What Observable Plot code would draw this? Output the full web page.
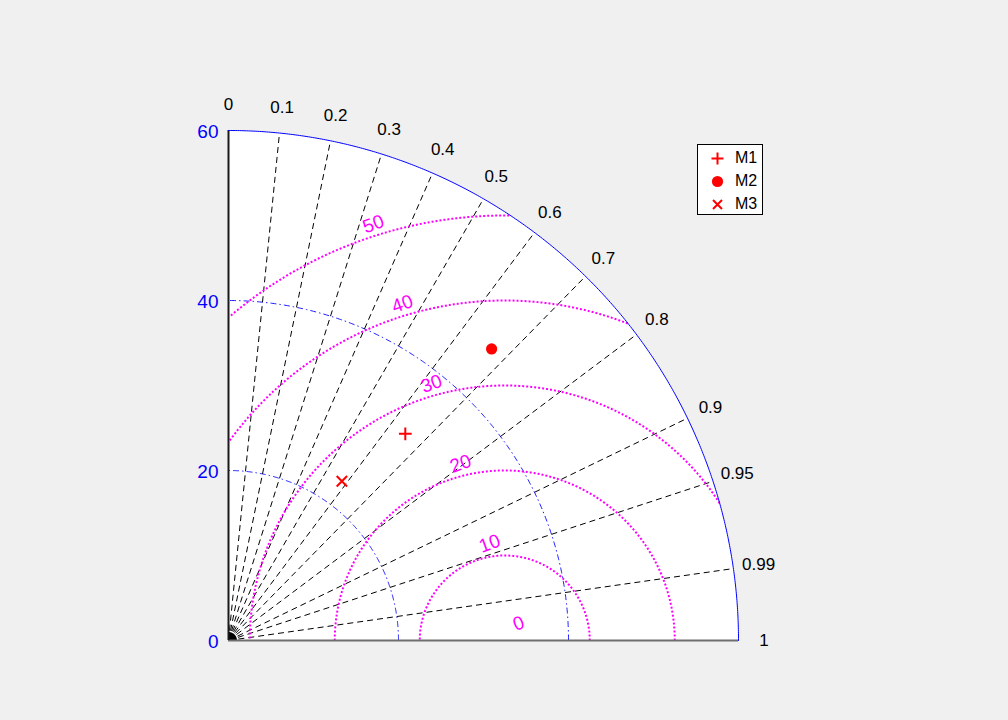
<!DOCTYPE html>
<html><head><meta charset="utf-8">
<script src="https://cdn.jsdelivr.net/npm/d3@7"></script>
<script src="https://cdn.jsdelivr.net/npm/@observablehq/plot@0.6"></script>
<style>
html,body{margin:0;padding:0;background:#f0f0f0;overflow:hidden}
#wrap{position:relative;width:1008px;height:720px}
#legend{position:absolute;left:697px;top:144px;width:66px;height:71px;background:#fff;border:1px solid #000;box-sizing:border-box;font:16px "Liberation Sans",Arial,sans-serif;color:#000}
.item{position:absolute;left:0;height:22px;line-height:22px}
.item svg{position:absolute;left:13px;top:5px}
.item span{position:absolute;left:37px;top:0;white-space:nowrap}
</style></head><body><div id="wrap"></div>
<script>
// ---- data ----
const models = ["M1", "M2", "M3"];
const stdDev = [32.0, 46.2, 23.0];
const corrCoef = [0.65, 0.67, 0.58];
const refStd = 32.5;
const corrTicks = [0, 0.1, 0.2, 0.3, 0.4, 0.5, 0.6, 0.7, 0.8, 0.9, 0.95, 0.99, 1];
const corrTickLabels = ["0", "0.1", "0.2", "0.3", "0.4", "0.5", "0.6", "0.7", "0.8", "0.9", "0.95", "0.99", "1"];
const stdTicks = [0, 20, 40, 60];
const stdGrid = [20, 40];
const stdMax = 60;
const rmsTicks = [0, 10, 20, 30, 40, 50];

// ---- geometry helpers ----
const deg = Math.PI / 180;
const arc = (cx, r, a0, a1, n = 360) =>
  d3.range(n + 1).map(i => {
    const a = (a0 + (a1 - a0) * i / n) * deg;
    return {x: cx + r * Math.cos(a), y: r * Math.sin(a)};
  });

const disc = [{x: 0, y: 0}, ...arc(0, stdMax, 0, 90), {x: 0, y: 0}];
const blob = [{x: 0, y: 0}, ...arc(0, 1, 0, 90, 30), {x: 0, y: 0}];
const stdCircles = stdGrid.flatMap(s => arc(0, s, 0, 90).map(p => ({...p, s})));
const outer = arc(0, stdMax, 0, 90);
const rmsCircles = rmsTicks.filter(r => r > 0).flatMap(r =>
  arc(refStd, r, 0, 180, 900)
    .filter(p => p.x >= 0 && Math.hypot(p.x, p.y) <= stdMax)
    .map(p => ({...p, r})));
const corrLines = corrTicks.filter(c => c > 0 && c < 1).map(c => {
  const t = Math.acos(c);
  return {x1: 0, y1: 0, x2: stdMax * Math.cos(t), y2: stdMax * Math.sin(t)};
});
const corrLabels = corrTicks.map((c, i) => {
  const t = Math.acos(c), R = stdMax * 1.05;
  return {x: R * Math.cos(t), y: R * Math.sin(t), label: corrTickLabels[i]};
});
const rmsLabelAngle = 110 * deg;
const rmsLabels = rmsTicks.map(r => ({
  x: refStd + r * Math.cos(rmsLabelAngle), y: r * Math.sin(rmsLabelAngle), label: String(r)
}));
const pts = models.map((m, i) => {
  const t = Math.acos(corrCoef[i]);
  return {model: m, x: stdDev[i] * Math.cos(t), y: stdDev[i] * Math.sin(t)};
});

const font = '"Liberation Sans", Arial, sans-serif';
const chart = Plot.plot({
  width: 1008, height: 720,
  marginLeft: 228, marginRight: 270, marginTop: 130, marginBottom: 80,
  style: {background: "#f0f0f0", fontFamily: font, overflow: "visible"},
  x: {domain: [0, stdMax], axis: null},
  y: {domain: [0, stdMax], axis: null},
  marks: [
    Plot.line(disc, {x: "x", y: "y", fill: "white", stroke: "none"}),
    Plot.line(stdCircles, {x: "x", y: "y", z: "s", stroke: "#0000ff", strokeWidth: 0.9, strokeDasharray: "6,3,1.5,3", strokeLinecap: "butt"}),
    Plot.link(corrLines, {x1: "x1", y1: "y1", x2: "x2", y2: "y2", stroke: "black", strokeWidth: 1, strokeDasharray: "6,4", strokeLinecap: "butt"}),
    Plot.line(rmsCircles, {x: "x", y: "y", z: "r", stroke: "#ff00ff", strokeWidth: 2, strokeDasharray: "2,2", strokeLinecap: "butt"}),
    Plot.line(blob, {x: "x", y: "y", fill: "black", stroke: "none"}),
    Plot.ruleY([0], {x1: 0, x2: stdMax, stroke: "#6e6e6e", strokeWidth: 2}),
    Plot.ruleX([0], {y1: 0, y2: stdMax, stroke: "#1a1a1a", strokeWidth: 2}),
    Plot.line(outer, {x: "x", y: "y", stroke: "#0000ff", strokeWidth: 1}),
    Plot.text(corrLabels, {x: "x", y: "y", text: "label", fontSize: 17, fill: "black", textAnchor: "middle", lineAnchor: "middle"}),
    Plot.text(stdTicks, {x: 0, y: d => d, text: d => String(d), fontSize: 19, fill: "#0000ff", textAnchor: "end", lineAnchor: "middle", dx: -10, dy: 1}),
    Plot.text(rmsLabels, {x: "x", y: "y", text: "label", fontSize: 19, fill: "#ff00ff", rotate: -20, textAnchor: "middle", lineAnchor: "middle", dx: 14, dy: -17}),
    Plot.dot(pts.filter(d => d.model === "M1"), {x: "x", y: "y", symbol: "plus", r: 4.2, stroke: "red", strokeWidth: 2, strokeLinecap: "butt"}),
    Plot.dot(pts.filter(d => d.model === "M2"), {x: "x", y: "y", symbol: "circle", r: 5.6, fill: "red", stroke: "none"}),
    Plot.dot(pts.filter(d => d.model === "M3"), {x: "x", y: "y", symbol: "times", r: 4.8, stroke: "red", strokeWidth: 2, strokeLinecap: "butt"})
  ]
});
const wrap = document.getElementById("wrap");
wrap.appendChild(chart);

// legend
const icons = {
  M1: '<path d="M0.5,6.5H12.5M6.5,0.5V12.5" stroke="red" stroke-width="2" fill="none"/>',
  M2: '<circle cx="6.5" cy="6.5" r="5.6" fill="red"/>',
  M3: '<path d="M2,2L11,11M11,2L2,11" stroke="red" stroke-width="2" fill="none"/>'
};
const lg = document.createElement("div");
lg.id = "legend";
lg.innerHTML = models.map((m, i) =>
  `<div class="item" style="top:${2 + i * 23}px"><svg width="13" height="13" viewBox="0 0 13 13">${icons[m]}</svg><span>${m}</span></div>`
).join("");
wrap.appendChild(lg);
</script></body></html>
